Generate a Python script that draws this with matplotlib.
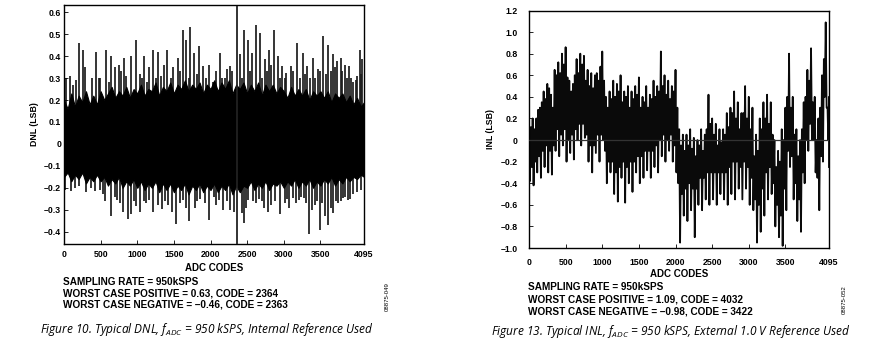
import matplotlib
matplotlib.use("Agg")
import matplotlib.pyplot as plt
import numpy as np

plt.rcParams['font.family'] = 'Liberation Sans'
plt.rcParams['mathtext.fontset'] = 'custom'
plt.rcParams['mathtext.rm'] = 'Open Sans'
plt.rcParams['mathtext.it'] = 'Open Sans:italic'

# sample codes for the envelopes (every 50 codes, plus last code)
codes = list(range(0, 4051, 50)) + [4095]
mid_codes = list(range(25, 4076, 50))

# DNL: dense dark core of the band (jagged edge)
dnl_core_hi = [0.20, 0.16, 0.23, 0.17, 0.22, 0.19, 0.24, 0.18, 0.22, 0.18,
               0.24, 0.20, 0.23, 0.26, 0.21, 0.24, 0.22, 0.26, 0.21, 0.25,
               0.23, 0.27, 0.22, 0.25, 0.24, 0.28, 0.22, 0.26, 0.24, 0.28,
               0.23, 0.27, 0.25, 0.29, 0.24, 0.27, 0.25, 0.28, 0.23, 0.27,
               0.25, 0.29, 0.24, 0.28, 0.25, 0.29, 0.23, 0.27, 0.25, 0.28,
               0.23, 0.27, 0.24, 0.28, 0.22, 0.27, 0.24, 0.27, 0.23, 0.26,
               0.24, 0.21, 0.26, 0.22, 0.25, 0.22, 0.25, 0.20, 0.24, 0.22,
               0.24, 0.21, 0.24, 0.19, 0.23, 0.21, 0.23, 0.19, 0.22, 0.18,
               0.21, 0.17, 0.19]
dnl_core_lo = [-0.15, -0.13, -0.17, -0.14, -0.16, -0.13, -0.18, -0.15, -0.17, -0.14,
               -0.17, -0.15, -0.19, -0.16, -0.18, -0.15, -0.20, -0.17, -0.19, -0.16,
               -0.20, -0.17, -0.21, -0.18, -0.20, -0.17, -0.22, -0.18, -0.21, -0.18,
               -0.22, -0.19, -0.21, -0.18, -0.23, -0.19, -0.21, -0.18, -0.22, -0.19,
               -0.21, -0.18, -0.22, -0.19, -0.21, -0.18, -0.23, -0.19, -0.22, -0.19,
               -0.20, -0.17, -0.21, -0.18, -0.20, -0.17, -0.21, -0.18, -0.19, -0.17,
               -0.20, -0.17, -0.19, -0.16, -0.20, -0.17, -0.19, -0.16, -0.20, -0.17,
               -0.19, -0.16, -0.18, -0.15, -0.19, -0.16, -0.18, -0.15, -0.17, -0.15,
               -0.16, -0.14, -0.15]

# DNL: individual spikes above the core
dnl_up_codes = [31, 86, 120, 160, 200, 259, 291, 380, 432, 478, 496, 569, 610, 646,
                701, 751, 783, 819, 851, 910, 978, 1033, 1060, 1097, 1130, 1160,
                1215, 1250, 1283, 1330, 1370, 1401, 1460, 1488, 1556, 1590, 1620,
                1665, 1700, 1720, 1774, 1810, 1838, 1897, 1940, 1975, 2038, 2080,
                2129, 2160, 2193, 2230, 2261, 2300, 2402, 2430, 2457, 2512, 2540,
                2571, 2616, 2671, 2700, 2739, 2770, 2798, 2830, 2866, 2921, 2950,
                2980, 3010, 3035, 3094, 3130, 3185, 3220, 3258, 3290, 3317, 3360,
                3399, 3430, 3467, 3500, 3531, 3570, 3604, 3640, 3672, 3700, 3726,
                3777, 3800, 3831, 3860, 3890, 3920, 3945, 3980, 4004, 4036, 4060, 4072]
dnl_up_vals = [0.30, 0.31, 0.27, 0.29, 0.46, 0.43, 0.35, 0.30, 0.42, 0.30, 0.30, 0.43, 0.28, 0.40,
               0.35, 0.36, 0.33, 0.39, 0.31, 0.40, 0.475, 0.32, 0.30, 0.40, 0.28, 0.35,
               0.43, 0.30, 0.42, 0.31, 0.36, 0.43, 0.30, 0.35, 0.39, 0.33, 0.52,
               0.475, 0.30, 0.535, 0.415, 0.32, 0.445, 0.355, 0.30, 0.36, 0.28, 0.33,
               0.415, 0.30, 0.30, 0.34, 0.355, 0.33, 0.41, 0.30, 0.52, 0.475, 0.33,
               0.415, 0.54, 0.505, 0.30, 0.385, 0.33, 0.43, 0.36, 0.52, 0.40, 0.30,
               0.355, 0.30, 0.325, 0.355, 0.33, 0.46, 0.30, 0.415, 0.32, 0.355, 0.30,
               0.39, 0.30, 0.34, 0.33, 0.49, 0.32, 0.45, 0.33, 0.41, 0.35, 0.38,
               0.39, 0.33, 0.36, 0.30, 0.355, 0.30, 0.28, 0.29, 0.31, 0.43, 0.32, 0.385]

# DNL: individual spikes below the core
dnl_dn_codes = [18, 100, 150, 205, 305, 370, 419, 487, 530, 564, 637, 690, 724, 760,
                805, 869, 919, 950, 987, 1033, 1087, 1120, 1156, 1219, 1279, 1338,
                1380, 1420, 1479, 1533, 1580, 1624, 1660, 1706, 1784, 1820, 1852,
                1920, 1979, 2043, 2080, 2111, 2170, 2220, 2261, 2320, 2434, 2452,
                2480, 2512, 2580, 2620, 2662, 2700, 2725, 2785, 2830, 2880, 2944,
                3012, 3040, 3071, 3126, 3170, 3208, 3240, 3276, 3310, 3344, 3390,
                3422, 3460, 3490, 3520, 3558, 3604, 3640, 3672, 3710, 3740, 3780,
                3808, 3840, 3877, 3910, 3945, 4000, 4059]
dnl_dn_vals = [-0.21, -0.215, -0.20, -0.19, -0.22, -0.20, -0.215, -0.21, -0.23, -0.26, -0.33, -0.24, -0.255, -0.27,
               -0.31, -0.34, -0.32, -0.26, -0.285, -0.31, -0.26, -0.27, -0.255, -0.31, -0.28, -0.295,
               -0.26, -0.28, -0.31, -0.365, -0.27, -0.255, -0.29, -0.35, -0.29, -0.26, -0.25,
               -0.27, -0.345, -0.24, -0.28, -0.255, -0.30, -0.26, -0.30, -0.31, -0.315, -0.36,
               -0.29, -0.255, -0.26, -0.27, -0.25, -0.26, -0.29, -0.31, -0.28, -0.26, -0.32,
               -0.27, -0.25, -0.29, -0.245, -0.27, -0.255, -0.24, -0.245, -0.27, -0.41, -0.30,
               -0.28, -0.26, -0.39, -0.27, -0.33, -0.37, -0.29, -0.315, -0.26, -0.27, -0.26,
               -0.245, -0.24, -0.255, -0.25, -0.23, -0.22, -0.21]

# DNL worst case pair
dnl_worst_code = 2364
dnl_worst_pos = 0.63
dnl_worst_neg = -0.46

# INL: upper / lower envelope at the 50-code points
inl_hi = [0.05, 0.20, 0.20, 0.30, 0.45, 0.52, 0.42, 0.65, 0.72, 0.80,
          0.86, 0.55, 0.52, 0.75, 0.80, 0.78, 0.65, 0.62, 0.60, 0.55,
          0.82, 0.40, 0.45, 0.55, 0.52, 0.60, 0.45, 0.50, 0.45, 0.50,
          0.58, 0.40, 0.50, 0.42, 0.55, 0.50, 0.82, 0.60, 0.55, 0.50,
          0.65, 0.10, 0.05, 0.05, 0.10, 0.02, 0.00, 0.10, 0.05, 0.42,
          0.20, 0.15, 0.10, 0.10, 0.25, 0.30, 0.45, 0.35, 0.25, 0.50,
          0.40, 0.30, 0.05, 0.20, 0.35, 0.42, 0.35, 0.00, -0.10, 0.10,
          0.30, 0.80, 0.40, 0.10, 0.00, 0.35, 0.65, 0.85, 0.40, 0.20,
          0.60, 1.09, 0.40]
inl_lo = [-0.38, -0.42, -0.30, -0.35, -0.25, -0.30, -0.32, -0.10, -0.15, -0.05,
          -0.20, -0.12, -0.18, 0.00, -0.05, 0.02, -0.20, -0.30, -0.12, -0.20,
          0.00, -0.40, -0.30, -0.50, -0.57, -0.35, -0.58, -0.40, -0.48, -0.30,
          -0.40, -0.35, -0.28, -0.35, -0.25, -0.30, -0.15, -0.20, -0.10, -0.20,
          -0.30, -0.95, -0.70, -0.75, -0.65, -0.90, -0.60, -0.65, -0.55, -0.60,
          -0.55, -0.60, -0.50, -0.55, -0.60, -0.50, -0.55, -0.45, -0.55, -0.45,
          -0.60, -0.65, -0.95, -0.85, -0.70, -0.55, -0.50, -0.80, -0.90, -0.98,
          -0.65, -0.25, -0.55, -0.75, -0.85, -0.40, -0.10, 0.00, -0.30, -0.65,
          -0.20, 0.30, -0.25]
# INL: smaller excursions at the in-between codes
inl_mid_hi = [0.12, 0.10, 0.28, 0.35, 0.38, 0.48, 0.30, 0.60, 0.62, 0.70,
              0.58, 0.45, 0.60, 0.62, 0.70, 0.55, 0.50, 0.48, 0.62, 0.68,
              0.55, 0.30, 0.38, 0.40, 0.45, 0.35, 0.40, 0.30, 0.38, 0.42,
              0.30, 0.35, 0.30, 0.38, 0.40, 0.45, 0.50, 0.42, 0.38, 0.45,
              0.30, -0.05, -0.10, -0.05, -0.08, -0.15, -0.05, -0.10, 0.10, 0.15,
              0.05, -0.05, -0.02, 0.05, 0.12, 0.25, 0.20, 0.10, 0.25, 0.20,
              0.10, -0.15, -0.10, 0.10, 0.20, 0.15, 0.05, -0.25, -0.20, 0.00,
              0.40, 0.30, 0.05, -0.15, 0.10, 0.40, 0.55, 0.35, 0.00, 0.30,
              0.75, 0.30]
inl_mid_lo = [-0.25, -0.20, -0.15, -0.10, -0.05, -0.10, -0.05, 0.10, 0.05, 0.10,
              0.00, 0.05, 0.10, 0.15, 0.15, 0.05, -0.05, -0.05, 0.05, 0.05,
              -0.10, -0.20, -0.20, -0.30, -0.25, -0.20, -0.25, -0.20, -0.20, -0.15,
              -0.15, -0.10, -0.10, -0.10, -0.05, 0.00, 0.05, 0.00, 0.05, -0.05,
              -0.40, -0.50, -0.45, -0.40, -0.45, -0.45, -0.35, -0.35, -0.30, -0.30,
              -0.30, -0.30, -0.30, -0.30, -0.25, -0.20, -0.20, -0.25, -0.20, -0.25,
              -0.35, -0.55, -0.60, -0.45, -0.30, -0.25, -0.40, -0.60, -0.70, -0.45,
              -0.10, -0.15, -0.40, -0.55, -0.30, 0.00, 0.15, 0.00, -0.35, -0.15,
              0.40, 0.00]


def zigzag(xs, hi, lo, end):
    # alternate between top and bottom of the band, half a step apart
    x, y = [], []
    for i in range(len(xs)):
        nxt = xs[i + 1] if i < len(xs) - 1 else end
        x += [xs[i], (xs[i] + nxt) / 2]
        y += [hi[i], lo[i]]
    return x, y


fig = plt.figure(figsize=(8.77, 3.45), dpi=100)
ax1 = fig.add_axes([64 / 877, 101 / 345, 300 / 877, 239 / 345])
ax2 = fig.add_axes([529 / 877, 97 / 345, 300 / 877, 237.5 / 345])

# ---- DNL ----
ax1.vlines(dnl_up_codes, 0, dnl_up_vals, color='#1c1c1c', lw=1.25, zorder=1)
ax1.vlines(dnl_dn_codes, 0, dnl_dn_vals, color='#1c1c1c', lw=1.25, zorder=1)
ax1.fill_between(codes, dnl_core_lo, dnl_core_hi, color='black', lw=0.8, zorder=2)
ax1.vlines(dnl_worst_code, dnl_worst_neg, dnl_worst_pos, color='#222222', lw=1.3, zorder=3)
ax1.set_xlim(0, 4095)
ax1.set_ylim(-0.456, 0.633)
ax1.set_yticks([-0.4, -0.3, -0.2, -0.1, 0, 0.1, 0.2, 0.3, 0.4, 0.5, 0.6])
ax1.set_yticklabels(['–0.4', '–0.3', '–0.2', '–0.1', '0', '0.1', '0.2', '0.3', '0.4', '0.5', '0.6'])
ax1.set_xticks([0, 500, 1000, 1500, 2000, 2500, 3000, 3500, 4095])
ax1.tick_params(axis='y', direction='in', length=3, width=0.6, pad=2, labelsize=6.3)
ax1.tick_params(axis='x', direction='in', length=3, width=0.6, pad=4, labelsize=6.3)
ax1.set_ylabel('DNL (LSB)', fontsize=6.3, fontweight='bold', labelpad=4)

# ---- INL ----
all_codes, all_hi, all_lo = [], [], []
for i in range(len(codes)):
    all_codes.append(codes[i]); all_hi.append(inl_hi[i]); all_lo.append(inl_lo[i])
    if i < len(mid_codes):
        all_codes.append(mid_codes[i]); all_hi.append(inl_mid_hi[i]); all_lo.append(inl_mid_lo[i])
x, y = zigzag(all_codes, all_hi, all_lo, 4095)
ax2.plot(x, y, color='#0a0a0a', lw=1.3, zorder=2)
ax2.axhline(0, color='#333333', lw=0.9, zorder=3)
ax2.set_xlim(0, 4095)
ax2.set_ylim(-1.0, 1.2)
ax2.set_yticks([-1.0, -0.8, -0.6, -0.4, -0.2, 0, 0.2, 0.4, 0.6, 0.8, 1.0, 1.2])
ax2.set_yticklabels(['–1.0', '–0.8', '–0.6', '–0.4', '–0.2', '0', '0.2', '0.4', '0.6', '0.8', '1.0', '1.2'])
ax2.set_xticks([0, 500, 1000, 1500, 2000, 2500, 3000, 3500, 4095])
ax2.tick_params(axis='y', direction='in', length=3, width=0.6, pad=8, labelsize=6.3)
ax2.tick_params(axis='x', direction='in', length=3, width=0.6, pad=7, labelsize=6.3)
ax2.set_ylabel('INL (LSB)', fontsize=6.3, fontweight='bold', labelpad=4)

for ax in (ax1, ax2):
    for t in ax.get_xticklabels() + ax.get_yticklabels():
        t.set_fontweight('bold')
    for s in ax.spines.values():
        s.set_linewidth(1.0)

# axis titles and notes
fig.text(214 / 877, 1 - 268 / 345, 'ADC CODES', ha='center', va='center', fontsize=7, fontweight='bold')
fig.text(679 / 877, 1 - 274 / 345, 'ADC CODES', ha='center', va='center', fontsize=7, fontweight='bold')

notes_left = ['SAMPLING RATE = 950kSPS',
              'WORST CASE POSITIVE = 0.63, CODE = 2364',
              'WORST CASE NEGATIVE = –0.46, CODE = 2363']
notes_right = ['SAMPLING RATE = 950kSPS',
               'WORST CASE POSITIVE = 1.09, CODE = 4032',
               'WORST CASE NEGATIVE = –0.98, CODE = 3422']
for i, s in enumerate(notes_left):
    fig.text(63 / 877, 1 - (282 + 11.3 * i) / 345, s, ha='left', va='center', fontsize=7.2, fontweight='bold')
for i, s in enumerate(notes_right):
    fig.text(528 / 877, 1 - (287 + 12.2 * i) / 345, s, ha='left', va='center', fontsize=7.2, fontweight='bold')

fig.text(387 / 877, 1 - 297 / 345, '08875-049', rotation=90, ha='center', va='center', fontsize=4.3)
fig.text(844 / 877, 1 - 300 / 345, '08875-052', rotation=90, ha='center', va='center', fontsize=4.3)

fig.text(207 / 877, 1 - 330 / 345,
         r'Figure 10. Typical DNL, $f_{ADC}$ = 950 kSPS, Internal Reference Used',
         ha='center', va='center', fontsize=8.6, family='Open Sans', style='italic')
fig.text(671 / 877, 1 - 331 / 345,
         r'Figure 13. Typical INL, $f_{ADC}$ = 950 kSPS, External 1.0 V Reference Used',
         ha='center', va='center', fontsize=8.6, family='Open Sans', style='italic')

fig.savefig('out.png', dpi=100)
